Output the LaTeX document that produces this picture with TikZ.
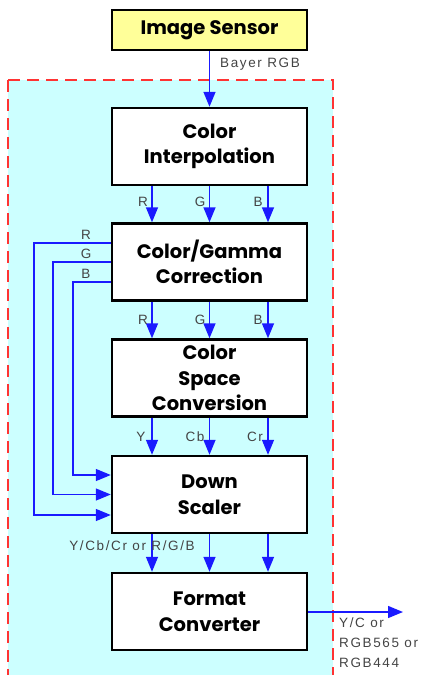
\documentclass[tikz,border=0pt]{standalone}
\usepackage{fontspec}
\setmainfont{Liberation Sans}[LetterSpace=12]
\newfontfamily\boxfont{Poppins}
\usetikzlibrary{arrows.meta,positioning}
\definecolor{cyanbg}{HTML}{CCFFFF}
\definecolor{sensorbg}{HTML}{FFFF99}
\definecolor{dashred}{HTML}{FF3333}
\definecolor{lineblue}{HTML}{1A1AFF}
\definecolor{labelgray}{HTML}{444444}
\tikzset{
  blk/.style={draw=black, line width=2.4pt, fill=white, minimum width=195pt, minimum height=77pt,
    inner sep=0pt, align=center, font=\boxfont\bfseries\fontsize{19.5}{25.5}\selectfont},
  arr/.style={draw=lineblue, line width=1.4pt, -{Triangle[width=12pt,length=15pt]}},
  lbl/.style={text=labelgray, font=\fontsize{13.5}{20}\selectfont, inner sep=0pt}
}
\begin{document}
\begin{tikzpicture}[x=1pt,y=-1pt]
\useasboundingbox (0,0) rectangle (423,675);
\fill[cyanbg] (8,80) rectangle (333,690);
\draw[dashred, line width=2pt, dash pattern=on 12pt off 7pt] (8,80) -- (333,80) -- (333,690);
\draw[dashred, line width=2pt, dash pattern=on 12pt off 7pt] (8,80) -- (8,690);
\node[blk, fill=sensorbg, minimum height=40pt] (is) at (209.5,30) {Image Sensor};
\node[blk] (ci) at (209.5,146.5) {Color\\Interpolation};
\node[blk] (cg) at (209.5,262) {Color/Gamma\\Correction};
\node[blk] (csc) at (209.5,378) {Color\\Space\\Conversion};
\node[blk] (ds) at (209.5,494.5) {Down\\Scaler};
\node[blk] (fc) at (209.5,611.5) {Format\\Converter};
\draw[arr] (is.south) -- (ci.north);
\node[lbl, anchor=west] (bayer) at (220,64) {Bayer RGB};
\foreach \a/\b in {ci/cg, cg/csc, csc/ds, ds/fc}{
  \draw[arr] ([xshift=-57.5pt]\a.south) -- ([xshift=-57.5pt]\b.north);
  \draw[arr] (\a.south) -- (\b.north);
  \draw[arr] ([xshift=58.5pt]\a.south) -- ([xshift=58.5pt]\b.north);
}
\node[lbl] (r1) at (143,202) {R};
\node[lbl] (g1) at (200,202) {G};
\node[lbl] (b1) at (258,202) {B};
\node[lbl] (r2) at (143,320) {R};
\node[lbl] (g2) at (200,320) {G};
\node[lbl] (b2) at (258,320) {B};
\node[lbl] (y3) at (141,437) {Y};
\node[lbl] (cb3) at (195,437) {Cb};
\node[lbl] (cr3) at (255,437) {Cr};
\node[lbl] (yc4) at (132,546) {Y/Cb/Cr or R/G/B};
\draw[arr] ([yshift=19pt]cg.west) -- ++(-77,0) |- ([yshift=-20.5pt]ds.west);
\draw[arr] (cg.west) -- ++(-58,0) |- (ds.west);
\draw[arr] ([yshift=-20pt]cg.west) -- ++(-38,0) |- ([yshift=19.5pt]ds.west);
\node[lbl, anchor=south] (rf) at (86,240) {R};
\node[lbl, anchor=south] (gf) at (86,259) {G};
\node[lbl, anchor=south] (bf) at (86,279) {B};
\coordinate (outend) at (403,612);
\draw[arr] (fc.east |- outend) -- (outend);
\node[lbl, anchor=north west, align=left] (outlbl) at (339,618) {Y/C or\\RGB565 or\\RGB444};
\end{tikzpicture}
\end{document}
